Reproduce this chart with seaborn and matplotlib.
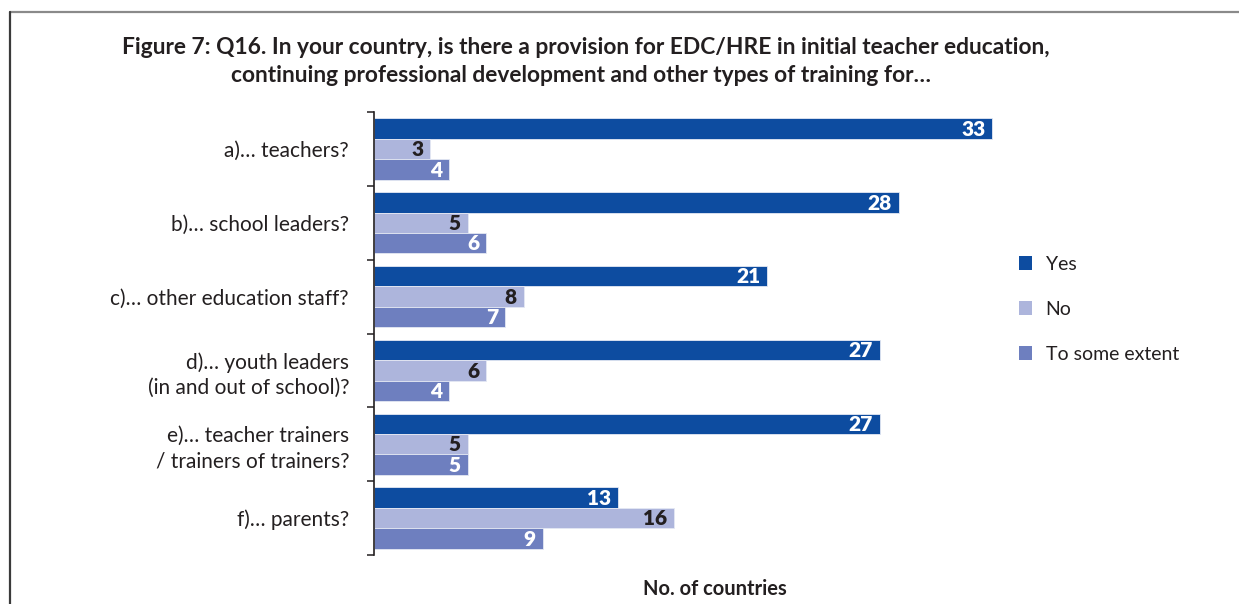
import matplotlib
matplotlib.use("Agg")
import matplotlib.pyplot as plt
from matplotlib.lines import Line2D
from matplotlib.patches import Patch
import seaborn as sns
import pandas as pd

# Survey responses per target group
categories = [
    "a)… teachers?",
    "b)… school leaders?",
    "c)… other education staff?",
    "d)… youth leaders\n(in and out of school)?",
    "e)… teacher trainers\n/ trainers of trainers?",
    "f)… parents?",
]
answers = ["Yes", "No", "To some extent"]
yes_counts = [33, 28, 21, 27, 27, 13]
no_counts = [3, 5, 8, 6, 5, 16]
some_counts = [4, 6, 7, 4, 5, 9]

colors = {"Yes": "#0D4CA0", "No": "#ADB5DC", "To some extent": "#6E7FBF"}
label_colors = {"Yes": "white", "No": "#231F20", "To some extent": "white"}

df = pd.DataFrame({
    "group": categories * 3,
    "answer": [a for a in answers for _ in categories],
    "count": yes_counts + no_counts + some_counts,
})

sns.set_theme(style="white")
plt.rcParams["font.family"] = ["Lato", "DejaVu Sans"]
text_color = "#231F20"

fig = plt.figure(figsize=(12.39, 6.04), dpi=100)
ax = fig.add_axes([374 / 1239, 1 - 555 / 604, 682 / 1239, (555 - 112) / 604])

sns.barplot(
    data=df, y="group", x="count", hue="answer",
    order=categories, hue_order=answers, palette=colors, saturation=1,
    orient="h", width=0.83, dodge=True, errorbar=None,
    edgecolor="#E4E8F3", linewidth=0.6, legend=False, ax=ax,
)

# value labels inside each bar end
for container, ans in zip(ax.containers, answers):
    for patch in container:
        w = patch.get_width()
        ax.annotate(
            f"{w:.0f}",
            xy=(w, patch.get_y() + patch.get_height() / 2),
            xytext=(-5, -0.5), textcoords="offset points",
            ha="right", va="center", fontsize=15, fontweight="heavy",
            color=label_colors[ans],
        )

ax.set_xlim(0, 36.4)
ax.set_ylim(len(categories) - 0.5, -0.5)
ax.set_ylabel("")
ax.set_xlabel("No. of countries", fontsize=14.5, fontweight="bold",
              color=text_color, labelpad=17)
ax.set_xticks([])

for side in ["top", "right", "bottom"]:
    ax.spines[side].set_visible(False)
ax.spines["left"].set_color("#231F20")
ax.spines["left"].set_linewidth(1.2)

# group separators as outward ticks, category names without ticks
ax.set_yticks([i - 0.5 for i in range(len(categories) + 1)], minor=True)
ax.tick_params(axis="y", which="minor", left=True, length=5, width=1.1,
               color="#231F20", direction="out")
ax.tick_params(axis="y", which="major", left=False, length=0, pad=18,
               labelsize=15, labelcolor=text_color)
for lbl in ax.get_yticklabels():
    lbl.set_multialignment("right")
    lbl.set_linespacing(1.3)

# legend
handles = [Patch(facecolor=colors[a], edgecolor="none") for a in answers]
fig.legend(
    handles, answers, loc="upper left",
    bbox_to_anchor=(1001 / 1239, 1 - 238 / 604),
    frameon=False, fontsize=14, labelcolor=text_color,
    handlelength=0.7, handleheight=0.7, handletextpad=0.7,
    labelspacing=1.45,
)

fig.text(586 / 1239, 1 - 47 / 604,
         "Figure 7: Q16. In your country, is there a provision for EDC/HRE in initial teacher education,",
         ha="center", va="center", fontsize=16.4, fontweight="bold", color=text_color)
fig.text(581 / 1239, 1 - 76 / 604,
         "continuing professional development and other types of training for…",
         ha="center", va="center", fontsize=16.4, fontweight="bold", color=text_color)

# frame lines along the top and left edges
fig.add_artist(Line2D([10 / 1239, 1], [1 - 12 / 604, 1 - 12 / 604],
                      transform=fig.transFigure, color="#8A8A8A", linewidth=1.6))
fig.add_artist(Line2D([10 / 1239, 10 / 1239], [0, 1 - 12 / 604],
                      transform=fig.transFigure, color="#3A3A3A", linewidth=1.6))

fig.savefig("out.png", dpi=100, facecolor="white")
